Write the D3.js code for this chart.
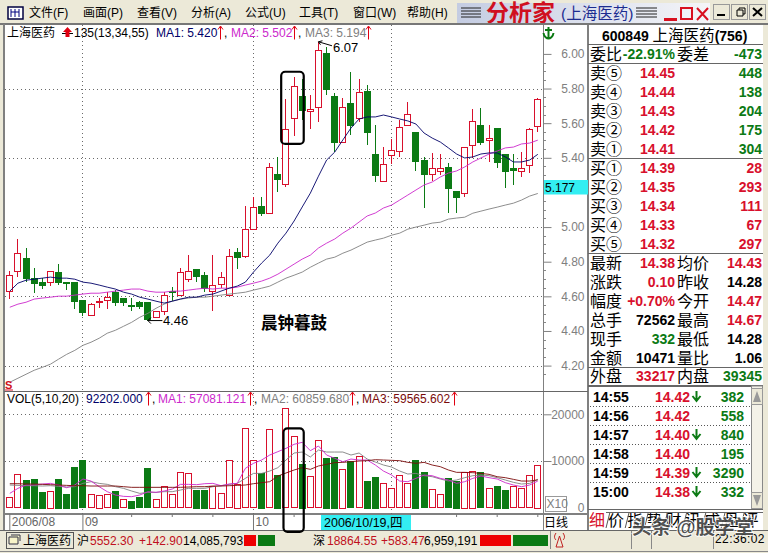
<!DOCTYPE html>
<html>
<head>
<meta charset="utf-8">
<script src="https://cdn.jsdelivr.net/npm/d3@7"></script>
<style>
  html, body { margin: 0; padding: 0; background: #ece9d8; overflow: hidden; }
  svg { display: block; }
  text { font-family: "Liberation Sans", "Noto Sans CJK SC", sans-serif; }
</style>
</head>
<body>
<svg id="chart" width="768" height="553"></svg>
<script>
// candles, 66 trading days
const opens = [4.630,4.746,4.821,4.705,4.682,4.682,4.740,4.682,4.682,4.578,4.491,4.566,4.578,4.624,4.590,4.552,4.566,4.566,4.480,4.514,4.632,4.607,4.699,4.757,4.722,4.630,4.670,4.607,4.855,4.832,4.988,5.121,5.081,5.306,5.248,5.630,5.757,5.670,5.694,6.006,5.757,5.491,5.717,5.630,5.786,5.422,5.266,5.416,5.439,5.590,5.549,5.387,5.306,5.324,5.347,5.208,5.196,5.474,5.590,5.503,5.572,5.422,5.341,5.324,5.358,5.584];
const highs = [4.746,4.931,4.879,4.763,4.705,4.746,4.786,4.682,4.682,4.578,4.561,4.590,4.624,4.636,4.590,4.590,4.572,4.566,4.514,4.624,4.653,4.763,4.838,4.757,4.740,4.838,4.740,4.873,4.879,5.121,5.173,5.173,5.370,5.405,5.740,5.867,5.855,5.763,6.07,6.040,5.774,5.746,5.896,5.855,5.821,5.590,5.462,5.509,5.618,5.722,5.549,5.405,5.428,5.422,5.370,5.208,5.462,5.682,5.688,5.590,5.572,5.422,5.422,5.433,5.572,5.746];
const lows = [4.584,4.711,4.682,4.618,4.642,4.659,4.665,4.636,4.526,4.486,4.491,4.532,4.526,4.543,4.543,4.514,4.526,4.46,4.480,4.491,4.572,4.607,4.682,4.682,4.624,4.514,4.647,4.607,4.757,4.821,4.988,5.064,5.081,5.202,5.231,5.526,5.618,5.566,5.607,5.763,5.433,5.491,5.532,5.607,5.474,5.260,5.260,5.364,5.405,5.584,5.324,5.110,5.266,5.301,5.081,5.081,5.173,5.399,5.474,5.376,5.341,5.225,5.243,5.289,5.312,5.549];
const closes = [4.722,4.850,4.705,4.676,4.665,4.746,4.682,4.678,4.572,4.509,4.555,4.572,4.595,4.566,4.566,4.549,4.543,4.468,4.514,4.607,4.626,4.740,4.746,4.717,4.647,4.665,4.711,4.832,4.827,4.988,5.116,5.081,5.347,5.277,5.566,5.815,5.676,5.682,6.023,5.798,5.491,5.694,5.590,5.780,5.549,5.301,5.364,5.445,5.578,5.653,5.381,5.306,5.341,5.341,5.225,5.173,5.462,5.613,5.491,5.514,5.376,5.324,5.329,5.341,5.566,5.740];

const ma13 = [4.630,4.676,4.693,4.699,4.705,4.711,4.705,4.705,4.699,4.682,4.676,4.665,4.653,4.642,4.624,4.613,4.595,4.584,4.572,4.561,4.572,4.584,4.595,4.595,4.607,4.613,4.630,4.647,4.659,4.682,4.740,4.792,4.838,4.907,4.965,5.035,5.116,5.196,5.294,5.387,5.433,5.503,5.572,5.624,5.636,5.636,5.647,5.636,5.624,5.613,5.595,5.543,5.514,5.491,5.457,5.422,5.399,5.405,5.422,5.428,5.428,5.405,5.376,5.376,5.387,5.420];
const ma34 = [4.537,4.555,4.566,4.584,4.590,4.595,4.601,4.601,4.607,4.613,4.618,4.618,4.624,4.630,4.636,4.642,4.642,4.630,4.624,4.624,4.630,4.630,4.636,4.642,4.647,4.642,4.647,4.647,4.653,4.665,4.676,4.688,4.705,4.728,4.757,4.786,4.815,4.838,4.879,4.907,4.931,4.965,4.994,5.029,5.064,5.081,5.110,5.127,5.156,5.185,5.214,5.243,5.260,5.289,5.312,5.324,5.347,5.376,5.399,5.422,5.439,5.457,5.462,5.480,5.485,5.502];
const ma55 = [4.104,4.127,4.150,4.173,4.190,4.208,4.237,4.265,4.288,4.317,4.335,4.358,4.387,4.404,4.427,4.450,4.479,4.502,4.531,4.555,4.572,4.584,4.590,4.595,4.595,4.601,4.607,4.613,4.618,4.624,4.636,4.647,4.659,4.682,4.705,4.722,4.740,4.768,4.792,4.815,4.826,4.849,4.867,4.890,4.913,4.925,4.936,4.953,4.965,4.988,5.000,5.011,5.023,5.028,5.046,5.052,5.057,5.080,5.092,5.104,5.115,5.127,5.138,5.156,5.179,5.194];

// volume panel
const volumes = [2210,7140,5930,6140,3360,3570,6140,2930,8710,10140,2860,2710,2860,3570,1790,1430,2210,8430,1790,4570,2860,7570,7350,3780,3780,4640,3140,10140,5070,16990,10140,7430,16780,7000,21280,15280,9350,6710,14420,10640,10850,8280,9920,11000,5710,6570,5210,4140,6930,5210,10210,7570,3930,2860,6280,5780,7710,7930,7570,4140,4640,3780,4570,4140,6930,9220];
const volRising = [1,1,0,0,0,1,0,0,0,0,1,1,1,0,1,0,0,0,1,1,1,1,1,0,0,1,1,1,1,1,1,0,1,0,1,1,0,1,1,0,0,1,0,1,0,0,1,1,1,1,0,0,1,1,0,0,1,1,0,1,0,0,1,1,1,1];
const volMa5 = [3070,4140,4860,4860,5070,5210,4860,4280,4860,6140,5710,4500,3430,2710,2430,2360,2710,3430,3280,3570,4000,5000,5000,4930,5140,5210,4710,5070,5210,8430,9500,10210,11280,12000,12710,13570,14000,12210,13210,11280,10570,9850,10420,10210,10210,9140,7850,7000,5710,5570,6280,7000,6850,6280,5930,5210,5570,6280,6780,6430,6140,5360,4860,4500,4860,5708];
const volMa10 = [4860,4780,4710,4710,4640,4710,4570,4430,4500,5210,5570,5210,5000,4500,4140,3570,3070,3280,3280,3430,3430,3780,4140,4140,4140,4500,4710,5000,5210,6280,7350,7350,7850,8570,10210,11710,11920,10850,12350,11920,11920,11920,11280,11710,10420,9780,9140,8710,7850,7210,7350,6850,6640,6140,5710,5930,6430,6850,7000,6850,6430,5930,5430,5070,5210,6086];
const volMa20 = [5140,5140,5070,5070,5000,4930,4860,4780,4710,4710,4640,4640,4640,4640,4500,4360,4360,4360,4360,4360,4360,4360,4430,4500,4500,4640,4640,4710,4780,4860,5140,5360,5570,6780,7430,8070,8570,8210,8930,9280,9640,9710,9850,10000,10070,10280,10210,10140,10070,9710,9500,9710,9140,8780,8070,7570,7570,7500,7350,7140,6640,6430,6070,5710,5710,5957];

const priceTicks = [6.0,5.8,5.6,5.4,5.0,4.8,4.6,4.4,4.2];
const priceGrid = [5.8,5.4,5.0,4.6,4.2];
const volTicks = [20000,10000];
const monthIdx = [0,9,30];
const monthLabels = ['2006/08','09','10'];
const minorIdx = [15,20,25,35,55,60,65];
const gridIdx = [9,30,47];

const menuItems = ['文件(F)','画面(P)','查看(V)','分析(A)','公式(U)','工具(T)','窗口(W)','帮助(H)'];

// quote panel
const askLabels = ['卖⑤','卖④','卖③','卖②','卖①'];
const askPrices = ['14.45','14.44','14.43','14.42','14.41'];
const askVols = ['448','138','204','175','304'];
const bidLabels = ['买①','买②','买③','买④','买⑤'];
const bidPrices = ['14.39','14.35','14.34','14.33','14.32'];
const bidVols = ['28','293','111','67','297'];
const statLabelsL = ['最新','涨跌','幅度','总手','现手','金额'];
const statValuesL = ['14.38','0.10','+0.70%','72562','332','10471'];
const statLabelsR = ['均价','昨收','今开','最高','最低','量比'];
const statValuesR = ['14.43','14.28','14.47','14.67','14.28','1.06'];
const tradeTimes = ['14:55','14:56','14:57','14:58','14:59','15:00'];
const tradePrices = ['14.42','14.42','14.40','14.40','14.39','14.38'];
const tradeDown = [1,0,1,0,1,1];
const tradeVols = ['382','558','840','195','3290','332'];
const tabs = ['价','指','势','财','讯','成','盘','评'];

const RED = '#d8102c', GREEN = '#0b7a14', NAVY = '#000068', MAGENTA = '#cc28cc', GRAY = '#808080', DARKRED = '#7a0a0a';
const BEIGE = '#ece9d8', AXIS = '#808080';

const svg = d3.select('#chart');

const x = d3.scalePoint().domain(d3.range(opens.length)).range([9.3, 537.3]);
const y = d3.scaleLinear().domain([4.2, 6.0]).range([365.6, 53.9]);
const yVol = d3.scaleLinear().domain([0, 20000]).range([507.7, 414.3]);
const px = i => Math.round(x(i)) + 0.5;

function label(g, str, tx, ty, opts = {}) {
  return g.append('text')
    .attr('x', tx).attr('y', ty).attr('dy', '.36em')
    .attr('font-size', opts.size || 12)
    .attr('font-weight', opts.bold ? 'bold' : 'normal')
    .attr('fill', opts.fill || '#000')
    .attr('text-anchor', opts.anchor || 'start')
    .text(str);
}

// --- window chrome
svg.append('rect').attr('width', 768).attr('height', 553).attr('fill', BEIGE);
const menu = svg.append('g');
menu.append('rect').attr('x', 8).attr('y', 7).attr('width', 15).attr('height', 12).attr('fill', '#fff').attr('stroke', '#000040').attr('stroke-width', 1.5);
menu.append('path').attr('d', 'M11 9V17M15 9V17M19 9V17M11 12H19').attr('stroke', '#000080').attr('fill', 'none');
menuItems.forEach((m, i) => label(menu, m, 29 + i * 54, 13, { size: 12 }));

const defs = svg.append('defs');
const grad = defs.append('linearGradient').attr('id', 'titleGrad');
grad.append('stop').attr('offset', '0').attr('stop-color', '#c4cce2');
grad.append('stop').attr('offset', '1').attr('stop-color', '#f4f5f8');
const clipChart = defs.append('clipPath').attr('id', 'clipMain');
clipChart.append('rect').attr('x', 5).attr('y', 25).attr('width', 538).attr('height', 366);

menu.append('rect').attr('x', 457).attr('y', 3).attr('width', 253).attr('height', 20).attr('fill', 'url(#titleGrad)');
[8, 11, 14, 17].forEach(d => {
  menu.append('line').attr('x1', 461).attr('x2', 481).attr('y1', d).attr('y2', d).attr('stroke', '#222');
  menu.append('line').attr('x1', 636).attr('x2', 657).attr('y1', d).attr('y2', d).attr('stroke', '#222');
});
label(menu, '分析家', 486, 13, { size: 23, bold: true, fill: '#d01020' }).attr('font-family', '"Noto Sans CJK SC"');
label(menu, '(上海医药)', 561, 13, { size: 15.5, fill: '#1c2c90' });
menu.append('rect').attr('x', 664).attr('y', 18).attr('width', 13).attr('height', 3).attr('fill', '#d81020');
menu.append('rect').attr('x', 681).attr('y', 8).attr('width', 11).attr('height', 11).attr('fill', 'none').attr('stroke', '#d81020').attr('stroke-width', 2);
menu.append('path').attr('d', 'M697 8L708 20M708 8L697 20').attr('stroke', '#d81020').attr('stroke-width', 2);
[713, 731, 749].forEach(bx => {
  menu.append('rect').attr('x', bx + .5).attr('y', 4.5).attr('width', 16).attr('height', 15).attr('fill', BEIGE).attr('stroke', '#999');
});
menu.append('rect').attr('x', 717).attr('y', 14).attr('width', 8).attr('height', 2).attr('fill', '#000');
menu.append('path').attr('d', 'M737 10h6v6h-6zM739 10v-2h6v6h-2').attr('fill', 'none').attr('stroke', '#000');
menu.append('path').attr('d', 'M753 8L762 16M762 8L753 16').attr('stroke', '#000').attr('stroke-width', 2);

// --- chart background and frames
svg.append('rect').attr('x', 4).attr('y', 25).attr('width', 584).attr('height', 505).attr('fill', '#fff');
svg.append('rect').attr('x', 588).attr('y', 25).attr('width', 175).attr('height', 505).attr('fill', '#fff');
const frame = svg.append('g').attr('stroke', AXIS).attr('fill', 'none').attr('shape-rendering', 'crispEdges');
frame.append('line').attr('x1', 0).attr('x2', 768).attr('y1', 24).attr('y2', 24).attr('stroke', '#777').attr('stroke-width', 2);
frame.append('line').attr('x1', 4).attr('x2', 4).attr('y1', 24).attr('y2', 530).attr('stroke-width', 2);
frame.append('line').attr('x1', 543.5).attr('x2', 543.5).attr('y1', 25).attr('y2', 530).attr('stroke-width', 1.5);
frame.append('line').attr('x1', 587.5).attr('x2', 587.5).attr('y1', 25).attr('y2', 530).attr('stroke-width', 2);
frame.append('line').attr('x1', 4).attr('x2', 588).attr('y1', 391).attr('y2', 391).attr('stroke', '#666');
frame.append('line').attr('x1', 4).attr('x2', 588).attr('y1', 514).attr('y2', 514).attr('stroke-width', 2);
frame.append('line').attr('x1', 0).attr('x2', 768).attr('y1', 530.5).attr('y2', 530.5).attr('stroke', '#666');

// --- grid
const grid = svg.append('g').attr('stroke', '#6a6a6a').attr('stroke-dasharray', '1 3').attr('shape-rendering', 'crispEdges');
grid.selectAll('.h').data(priceGrid).enter().append('line')
  .attr('x1', 5).attr('x2', 543).attr('y1', d => Math.round(y(d)) + .5).attr('y2', d => Math.round(y(d)) + .5);
grid.selectAll('.v').data(volTicks).enter().append('line')
  .attr('x1', 5).attr('x2', 543).attr('y1', d => Math.round(yVol(d)) + .5).attr('y2', d => Math.round(yVol(d)) + .5);
grid.selectAll('.c').data(gridIdx).enter().append('line')
  .attr('x1', d => px(d) - .5).attr('x2', d => px(d) - .5).attr('y1', 25).attr('y2', 514);

// --- axes
const priceAxis = d3.axisRight(y).tickValues(priceTicks).tickFormat(d3.format('.2f')).tickSize(8).tickPadding(0);
const gPrice = svg.append('g').attr('transform', 'translate(543.5,0)').call(priceAxis);
gPrice.select('.domain').remove();
gPrice.selectAll('.tick line').attr('stroke', AXIS);
gPrice.selectAll('.tick text').attr('x', 41).attr('text-anchor', 'end').attr('fill', GRAY).attr('font-size', 12).attr('font-family', null);

// minor price ticks
const minorPrices = d3.range(4.15, 6.05, 0.05).filter(v => !priceTicks.some(t => Math.abs(t - v) < 1e-6));
svg.append('g').selectAll('line').data(minorPrices).enter().append('line')
  .attr('x1', 544).attr('x2', 546).attr('y1', d => Math.round(y(d)) + .5).attr('y2', d => Math.round(y(d)) + .5)
  .attr('stroke', '#888').attr('shape-rendering', 'crispEdges');

const volAxis = d3.axisRight(yVol).tickValues(volTicks).tickFormat(d3.format('d')).tickSize(8).tickPadding(0);
const gVol = svg.append('g').attr('transform', 'translate(543.5,0)').call(volAxis);
gVol.select('.domain').remove();
gVol.selectAll('.tick line').attr('stroke', AXIS);
gVol.selectAll('.tick text').attr('x', 41).attr('text-anchor', 'end').attr('fill', GRAY).attr('font-size', 12).attr('font-family', null);
label(svg, '0', 584.5, yVol(0), { fill: GRAY, anchor: 'end' });
svg.append('rect').attr('x', 545.5).attr('y', 496.5).attr('width', 21).attr('height', 15).attr('fill', '#fff').attr('stroke', '#999');
label(svg, 'X10', 546.5, 504, { fill: GRAY, size: 12 });

// --- x axis
const gMonth = svg.append('g').attr('transform', 'translate(0,514)')
  .call(d3.axisBottom(x).tickValues(monthIdx).tickFormat((d, i) => monthLabels[i]).tickSize(16).tickPadding(0));
gMonth.select('.domain').remove();
gMonth.selectAll('.tick line').attr('stroke', '#777');
gMonth.selectAll('.tick text').attr('x', 2).attr('y', 8).attr('dy', '.36em').attr('text-anchor', 'start').attr('fill', '#666').attr('font-size', 12).attr('font-family', null);
const gMinor = svg.append('g').attr('transform', 'translate(0,514)')
  .call(d3.axisBottom(x).tickValues(minorIdx).tickFormat('').tickSize(3));
gMinor.select('.domain').remove();
gMinor.selectAll('.tick line').attr('stroke', '#777');
svg.append('rect').attr('x', 321).attr('y', 515).attr('width', 90).attr('height', 15).attr('fill', '#33eef2');
label(svg, '2006/10/19,四', 324, 522.5, { size: 12.5 });
label(svg, '日线', 544, 523, { size: 12 });

// --- candles
const candles = svg.append('g').attr('clip-path', 'url(#clipMain)').attr('shape-rendering', 'crispEdges');
const isUp = i => closes[i] >= opens[i];
const idx = d3.range(opens.length);
candles.selectAll('.wick').data(idx).enter().append('line')
  .attr('x1', px).attr('x2', px)
  .attr('y1', i => y(highs[i])).attr('y2', i => y(lows[i]))
  .attr('stroke', i => isUp(i) ? RED : GREEN);
candles.selectAll('.body').data(idx).enter().append('rect')
  .attr('x', i => px(i) - 3)
  .attr('width', 6)
  .attr('y', i => Math.round(y(Math.max(opens[i], closes[i]))) + .5)
  .attr('height', i => Math.max(1, Math.round(Math.abs(y(opens[i]) - y(closes[i])))))
  .attr('fill', i => isUp(i) ? '#fff' : GREEN)
  .attr('stroke', i => isUp(i) ? RED : GREEN);

const priceLine = d3.line().x((d, i) => x(i) + .5).y(d => y(d));
[[ma55, GRAY], [ma34, MAGENTA], [ma13, NAVY]].forEach(([s, c]) => {
  svg.append('path').attr('d', priceLine(s)).attr('fill', 'none').attr('stroke', c).attr('stroke-width', .9);
});

// --- volume
const vols = svg.append('g').attr('shape-rendering', 'crispEdges');
vols.selectAll('rect').data(idx).enter().append('rect')
  .attr('x', i => px(i) - 3)
  .attr('width', 6)
  .attr('y', i => Math.round(yVol(volumes[i])) + .5)
  .attr('height', i => Math.round(yVol(0) - yVol(volumes[i])))
  .attr('fill', i => volRising[i] ? '#fff' : GREEN)
  .attr('stroke', i => volRising[i] ? RED : GREEN);
const volLine = d3.line().x((d, i) => x(i) + .5).y(d => yVol(d));
[[volMa10, GRAY], [volMa5, MAGENTA], [volMa20, DARKRED]].forEach(([s, c]) => {
  svg.append('path').attr('d', volLine(s)).attr('fill', 'none').attr('stroke', c).attr('stroke-width', .9);
});

// --- legends
function upMark(tx, ty) {
  svg.append('path').attr('d', `M${tx} ${ty - 6.5}V${ty + 6.5}M${tx - 2.5} ${ty - 3.5}L${tx} ${ty - 7}L${tx + 2.5} ${ty - 3.5}`)
    .attr('fill', 'none').attr('stroke', '#e00010');
}
label(svg, '上海医药', 7, 33, { size: 12 });
svg.append('line').attr('x1', 62).attr('x2', 73).attr('y1', 33.5).attr('y2', 33.5).attr('stroke', '#000');
svg.append('path').attr('d', 'M67.5 27L72 32H69.5V37H65.5V32H63Z').attr('fill', '#e00010');
label(svg, '135(13,34,55)', 74, 33);
label(svg, 'MA1: 5.420', 156, 33, { fill: NAVY });
upMark(220.5, 33); label(svg, ',', 224, 33);
label(svg, 'MA2: 5.502', 231, 33, { fill: MAGENTA });
upMark(294.5, 33); label(svg, ',', 298, 33);
label(svg, 'MA3: 5.194', 305, 33, { fill: GRAY });
upMark(368.5, 33);

label(svg, 'VOL(5,10,20)', 7, 399);
label(svg, '92202.000', 86, 399, { fill: NAVY });
upMark(148.5, 399); label(svg, ',', 152, 399);
label(svg, 'MA1: 57081.121', 158, 399, { fill: MAGENTA });
upMark(250.5, 399); label(svg, ',', 254, 399);
label(svg, 'MA2: 60859.680', 261, 399, { fill: GRAY });
upMark(352.5, 399); label(svg, ',', 356, 399);
label(svg, 'MA3: 59565.602', 362, 399, { fill: DARKRED });
upMark(454.5, 399);

// anchor icon
svg.append('path').attr('d', 'M548.5 27V38M545 30H552M543.5 33C544 37 547 38.5 548.5 38.5C550 38.5 553 37 553.5 33')
  .attr('fill', 'none').attr('stroke', GREEN).attr('stroke-width', 2);

// --- annotations
const hi = 38, lo = 17;
svg.append('path').attr('d', `M${x(hi) + 0.5} ${y(highs[hi])}L${x(hi) + 14} ${y(highs[hi]) + 4}M${x(hi) + 0.5} ${y(highs[hi])}l4 -1M${x(hi) + 0.5} ${y(highs[hi])}l2 3`)
  .attr('fill', 'none').attr('stroke', '#000');
label(svg, '6.07', x(hi) + 15, y(highs[hi]) + 5.5, { size: 13 });
svg.append('path').attr('d', `M${x(lo) + 0.5} ${y(lows[lo])}H${x(lo) + 15}M${x(lo) + 0.5} ${y(lows[lo])}l3 -3M${x(lo) + 0.5} ${y(lows[lo])}l3 3`)
  .attr('fill', 'none').attr('stroke', '#000');
label(svg, '4.46', x(lo) + 15.5, y(lows[lo]) - 0.5, { size: 13 });
svg.append('rect').attr('x', 544).attr('y', 180).attr('width', 44).attr('height', 14.5).attr('fill', '#33eef2');
label(svg, '5.177', 545, 187.5, { size: 12 });
label(svg, 'S', 5, 385, { bold: true, fill: '#d01020', size: 11 });
svg.append('line').attr('x1', 5).attr('x2', 13).attr('y1', 390).attr('y2', 390).attr('stroke', '#d01020');

label(svg, '晨钟暮鼓', 261, 323.5, { size: 16.5, bold: true }).attr('font-family', '"Noto Sans CJK SC"');

// boxes round the pattern, the three candles and their volume bars
const boxPad = 4.3;
svg.append('rect')
  .attr('x', x(34) - boxPad).attr('width', x(36) - x(34) + boxPad + 2)
  .attr('y', y(5.897)).attr('height', y(5.48) - y(5.897))
  .attr('rx', 4).attr('fill', 'none').attr('stroke', '#000').attr('stroke-width', 2.2);
svg.append('rect')
  .attr('x', x(34) - 2).attr('width', x(36) - x(34) + 4)
  .attr('y', yVol(17000)).attr('height', 103.5)
  .attr('rx', 4).attr('fill', 'none').attr('stroke', '#000').attr('stroke-width', 2.2);

// --- quote panel
const quote = svg.append('g');
const hr = (g, yy, x1 = 588, x2 = 763, c = '#666', w = 1) => g.append('line')
  .attr('x1', x1).attr('x2', x2).attr('y1', yy).attr('y2', yy).attr('stroke', c).attr('stroke-width', w).attr('shape-rendering', 'crispEdges');
const LBL = 16, NUM = 14;
const head = quote.append('text').attr('x', 602).attr('y', 35).attr('dy', '.36em');
head.append('tspan').attr('font-size', NUM).attr('font-weight', 'bold').text('600849 ');
head.append('tspan').attr('font-size', 15.5).text('上海医药');
head.append('tspan').attr('font-size', NUM).attr('font-weight', 'bold').text('(756)');
hr(quote, 44.5);
label(quote, '委比', 590, 54, { size: LBL });
label(quote, '-22.91%', 675, 54, { size: NUM, bold: true, fill: GREEN, anchor: 'end' });
label(quote, '委差', 677, 54, { size: LBL });
label(quote, '-473', 762, 54, { size: NUM, bold: true, fill: GREEN, anchor: 'end' });
hr(quote, 63.5);
askLabels.forEach((d, i) => {
  const ry = 73 + i * 19;
  label(quote, d, 590, ry, { size: LBL });
  label(quote, askPrices[i], 675, ry, { size: NUM, bold: true, fill: RED, anchor: 'end' });
  label(quote, askVols[i], 762, ry, { size: NUM, bold: true, fill: GREEN, anchor: 'end' });
});
hr(quote, 158.5);
bidLabels.forEach((d, i) => {
  const ry = 168 + i * 19;
  label(quote, d, 590, ry, { size: LBL });
  label(quote, bidPrices[i], 675, ry, { size: NUM, bold: true, fill: RED, anchor: 'end' });
  label(quote, bidVols[i], 762, ry, { size: NUM, bold: true, fill: RED, anchor: 'end' });
});
hr(quote, 253.5);
const statColorsL = [RED, RED, RED, '#000', GREEN, '#000'];
const statColorsR = [RED, '#000', RED, RED, '#000', '#000'];
statLabelsL.forEach((d, i) => {
  const ry = 263 + i * 19;
  label(quote, d, 590, ry, { size: LBL });
  label(quote, statValuesL[i], 675, ry, { size: NUM, bold: true, fill: statColorsL[i], anchor: 'end' });
  label(quote, statLabelsR[i], 677, ry, { size: LBL });
  label(quote, statValuesR[i], 762, ry, { size: NUM, bold: true, fill: statColorsR[i], anchor: 'end' });
});
hr(quote, 367.5);
label(quote, '外盘', 590, 376, { size: LBL });
label(quote, '33217', 675, 376, { size: NUM, bold: true, fill: RED, anchor: 'end' });
label(quote, '内盘', 677, 376, { size: LBL });
label(quote, '39345', 762, 376, { size: NUM, bold: true, fill: GREEN, anchor: 'end' });
hr(quote, 385.5, 588, 763, '#666', 2);
tradeTimes.forEach((d, i) => {
  const ry = 397 + i * 19;
  label(quote, d, 593, ry, { size: NUM, bold: true });
  label(quote, tradePrices[i], 690, ry, { size: NUM, bold: true, fill: RED, anchor: 'end' });
  if (tradeDown[i]) {
    quote.append('path').attr('d', `M696.5 ${ry - 6}V${ry + 3}M692.5 ${ry - 1}L696.5 ${ry + 4}L700.5 ${ry - 1}`).attr('fill', 'none').attr('stroke', GREEN).attr('stroke-width', 2);
  }
  label(quote, tradeVols[i], 744, ry, { size: NUM, bold: true, fill: GREEN, anchor: 'end' });
  if (i < 5) {
    hr(quote, ry + 9.5, 590, 750, '#555').attr('stroke-dasharray', '1 2');
  }
});
// scroll bar
quote.append('rect').attr('x', 751.5).attr('y', 386).attr('width', 11).attr('height', 123).attr('fill', '#f4f2e8').attr('stroke', '#888');
quote.append('rect').attr('x', 751.5).attr('y', 388.5).attr('width', 11).attr('height', 16).attr('fill', BEIGE).attr('stroke', '#999');
quote.append('rect').attr('x', 751.5).attr('y', 492.5).attr('width', 11).attr('height', 16).attr('fill', BEIGE).attr('stroke', '#999');
quote.append('path').attr('d', 'M757 391L761 402H753Z').attr('fill', '#999');
quote.append('path').attr('d', 'M757 506L761 495H753Z').attr('fill', '#999');
hr(quote, 509.5);
// tabs
label(quote, '细', 589, 520, { size: LBL, fill: RED });
tabs.forEach((d, i) => {
  label(quote, d, 608 + i * 19.2, 520, { size: LBL });
  quote.append('path').attr('d', `M${606 + i * 19.2} 528L${610 + i * 19.2} 512`).attr('fill', 'none').attr('stroke', '#555');
});
hr(quote, 512, 606, 763, '#666');

// --- status bar
const bar = svg.append('g');
bar.append('rect').attr('x', 6.5).attr('y', 532.5).attr('width', 67).attr('height', 16).attr('fill', BEIGE).attr('stroke', '#555');
bar.append('path').attr('d', 'M9 537h9v7h-9zM11 535h9v6').attr('fill', '#f8f4c8').attr('stroke', '#334');
label(bar, '上海医药', 23, 540.5, { size: 12 });
label(bar, '沪', 77, 540.5, { size: 12 });
label(bar, '5552.30', 90, 540.5, { size: 12, fill: '#c01020' });
label(bar, '+142.90', 139, 540.5, { size: 12, fill: '#c01020' });
label(bar, '14,085,793', 183, 540.5, { size: 12 });
bar.append('rect').attr('x', 244).attr('y', 535).attr('width', 12).attr('height', 11).attr('fill', '#ee0000');
bar.append('rect').attr('x', 258).attr('y', 535).attr('width', 17).attr('height', 11).attr('fill', GREEN);
label(bar, '深', 313, 540.5, { size: 12 });
label(bar, '18864.55', 327, 540.5, { size: 12, fill: '#c01020' });
label(bar, '+583.47', 381, 540.5, { size: 12, fill: '#c01020' });
label(bar, '6,959,191', 424, 540.5, { size: 12 });
bar.append('rect').attr('x', 480).attr('y', 535).attr('width', 31).attr('height', 11).attr('fill', '#ee0000');
bar.append('rect').attr('x', 513).attr('y', 535).attr('width', 35).attr('height', 11).attr('fill', GREEN);
[550, 631, 651, 713].forEach(sx => bar.append('line').attr('x1', sx + .5).attr('x2', sx + .5).attr('y1', 531).attr('y2', 549).attr('stroke', '#888'));
bar.append('path').attr('d', 'M559.5 536L556 547H563ZM556 533C554 536 554 538 556 540M563 533C565 536 565 538 563 540').attr('fill', 'none').attr('stroke', '#c02020');
label(bar, '22:36:02', 715, 539, { size: 12 }).attr('letter-spacing', 0.4);
hr(bar, 551.5, 0, 768, '#888');

// --- watermark
label(svg, '头条 @股学堂', 632, 527, { size: 19.5, bold: true, fill: '#444' })
  .attr('stroke', '#fff').attr('stroke-width', 1.6).attr('paint-order', 'stroke').attr('opacity', .9);
</script>
</body>
</html>
